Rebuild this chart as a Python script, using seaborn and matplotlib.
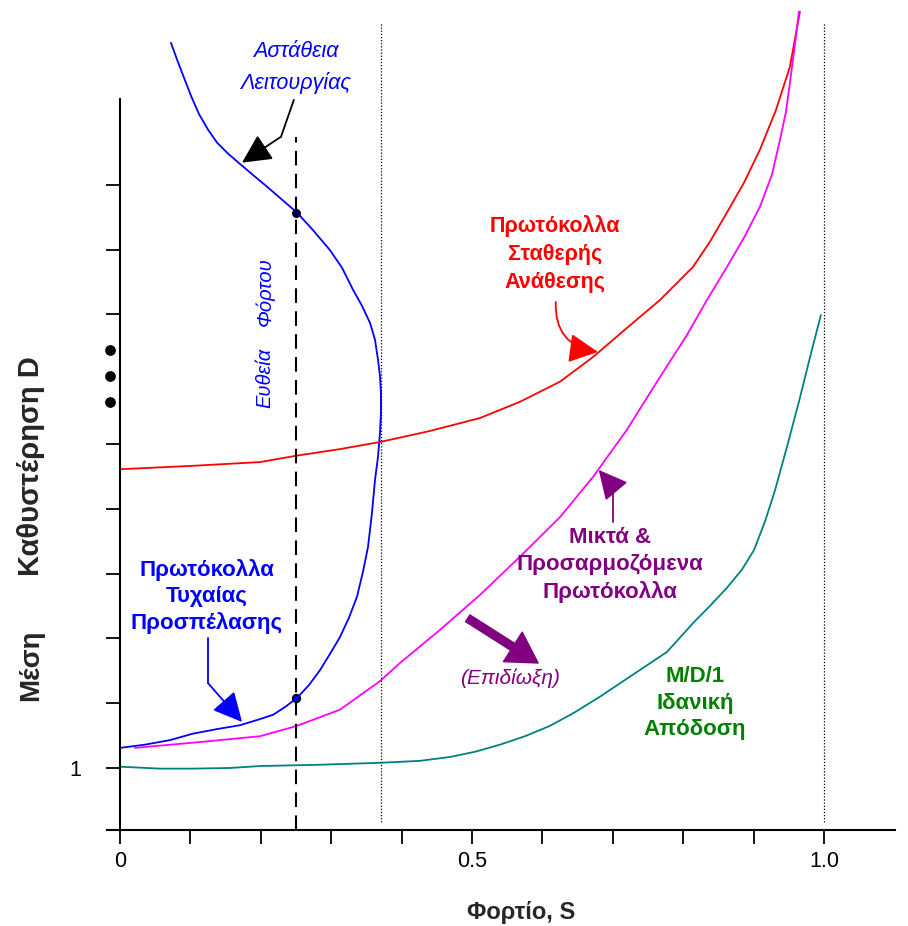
import matplotlib
matplotlib.use("Agg")
import matplotlib.pyplot as plt
import numpy as np
import seaborn as sns

# curves (load S, mean delay D)
blue_x = [0.0724, 0.0810, 0.0909, 0.1009, 0.1122, 0.1250, 0.1378, 0.1534, 0.1705, 0.1889,
          0.2088, 0.2301, 0.2514, 0.2741, 0.2983, 0.3153, 0.3310, 0.3438, 0.3551, 0.3622,
          0.3665, 0.3693, 0.3707, 0.3707, 0.3693, 0.3665, 0.3622, 0.3580, 0.3523, 0.3452,
          0.3366, 0.3253, 0.3125, 0.2983, 0.2841, 0.2685, 0.2514, 0.2344, 0.2173, 0.1946,
          0.1705, 0.1378, 0.1037, 0.0710, 0.0355, 0.0]
blue_y = [12.19, 11.93, 11.65, 11.37, 11.09, 10.85, 10.65, 10.48, 10.32, 10.15,
          9.97, 9.77, 9.57, 9.30, 8.99, 8.72, 8.38, 8.13, 7.87, 7.61,
          7.30, 7.05, 6.79, 6.48, 6.17, 5.80, 5.44, 4.94, 4.41, 4.03,
          3.64, 3.32, 3.02, 2.76, 2.51, 2.28, 2.08, 1.94, 1.82, 1.74,
          1.66, 1.60, 1.53, 1.43, 1.36, 1.31]

red_x = [0.0, 0.0994, 0.1989, 0.2514, 0.3125, 0.3693, 0.4403, 0.5114, 0.5682, 0.6250,
         0.6719, 0.7202, 0.7670, 0.8139, 0.8381, 0.8622, 0.8864, 0.9091, 0.9318, 0.9517,
         0.9659]
red_y = [5.61, 5.66, 5.72, 5.82, 5.92, 6.03, 6.20, 6.40, 6.65, 6.96,
         7.34, 7.79, 8.22, 8.73, 9.12, 9.57, 10.03, 10.54, 11.15, 11.82,
         12.67]

mag_x = [0.0213, 0.1136, 0.1989, 0.2514, 0.3125, 0.3693, 0.3977, 0.4545, 0.5114, 0.5682,
         0.6250, 0.6719, 0.7202, 0.7670, 0.8054, 0.8338, 0.8622, 0.8864, 0.9091, 0.9261,
         0.9375, 0.9460, 0.9517, 0.9588, 0.9645]
mag_y = [1.31, 1.40, 1.49, 1.65, 1.90, 2.34, 2.62, 3.13, 3.67, 4.26,
         4.87, 5.49, 6.22, 7.03, 7.68, 8.22, 8.73, 9.18, 9.66, 10.15,
         10.69, 11.12, 11.57, 12.16, 12.67]

teal_x = [0.0, 0.0568, 0.1037, 0.1563, 0.1989, 0.2841, 0.3693, 0.4261, 0.4688, 0.5043,
          0.5398, 0.5753, 0.6108, 0.6463, 0.6818, 0.7287, 0.7770, 0.8153, 0.8381, 0.8622,
          0.8835, 0.9006, 0.9162, 0.9304, 0.9474, 0.9645, 0.9801, 0.9957]
teal_y = [1.02, 0.99, 0.99, 1.00, 1.03, 1.05, 1.08, 1.11, 1.17, 1.25,
          1.36, 1.49, 1.65, 1.86, 2.10, 2.44, 2.79, 3.25, 3.50, 3.78,
          4.06, 4.36, 4.80, 5.28, 5.95, 6.65, 7.33, 7.99]

load_line = 0.25
limit_lines = [0.371, 1.0]
op_points_y = [9.56, 2.08]
ellipsis_y = [7.45, 7.05, 6.65]

x_ticks = [0.0, 0.1, 0.2, 0.3, 0.4, 0.5, 0.6, 0.7, 0.8, 0.9, 1.0]
x_labels = ['0', '', '', '', '', '0.5', '', '', '', '', '1.0']
y_ticks = [1, 2, 3, 4, 5, 6, 8, 9, 10]
y_labels = ['1', '', '', '', '', '', '', '', '']

BLUE = '#0000ff'
RED = '#ff0000'
MAG = '#ff00ff'
TEAL = '#008080'
PURPLE = '#800080'
GREEN = '#008000'

sns.set_theme(style="ticks")
plt.rcParams['font.family'] = ['Liberation Sans', 'DejaVu Sans']

fig = plt.figure(figsize=(9.08, 9.26), dpi=100)
ax = fig.add_axes([107 / 908, 96 / 926, 788 / 908, 830 / 926])
ax.set_xlim(-0.0185, 1.101)
ax.set_ylim(0.043, 12.85)

for xs, ys, c in [(blue_x, blue_y, BLUE), (red_x, red_y, RED),
                  (mag_x, mag_y, MAG), (teal_x, teal_y, TEAL)]:
    sns.lineplot(x=xs, y=ys, sort=False, estimator=None, color=c, lw=1.3, ax=ax)

# load line and limits
ax.plot([load_line, load_line], [0.043, 10.74], color='black', lw=1.5,
        dashes=(7, 4))
for xv in limit_lines:
    ax.plot([xv, xv], [0.17, 12.5], color='black', lw=0.9, ls=(0, (1, 1.5)))

ax.scatter([load_line], [op_points_y[0]], s=30, color='#000040', zorder=5)
ax.scatter([load_line], [op_points_y[1]], s=30, color=BLUE, edgecolor='black',
           lw=1.2, zorder=5)
ax.scatter([-0.0142] * 3, ellipsis_y, s=45, color='black', clip_on=False, zorder=5)

# axes styling
sns.despine(ax=ax)
ax.spines['left'].set_position(('data', 0))
ax.spines['left'].set_bounds(0.043, 11.32)
for s in ['left', 'bottom']:
    ax.spines[s].set_color('black')
    ax.spines[s].set_linewidth(1.5)
ax.set_xticks(x_ticks)
ax.set_xticklabels(x_labels)
ax.set_yticks(y_ticks)
ax.set_yticklabels(y_labels)
ax.tick_params(axis='both', direction='out', length=10, width=1.3,
               color='black', labelsize=15.5, labelcolor='black')
ax.tick_params(axis='x', pad=5)
ax.tick_params(axis='y', pad=18)

fig.text(521 / 908, 1 - 912 / 926, 'Φορτίο, S', ha='center', va='center',
         fontsize=17, fontweight='bold')
# y axis title, two words set apart as in the original
fig.text(31 / 908, 1 - 665 / 926, 'Μέση', rotation=90, ha='center',
         va='center', fontsize=20, fontweight='bold')
fig.text(31 / 908, 1 - 466 / 926, 'Καθυστέρηση D', rotation=90, ha='center',
         va='center', fontsize=21, fontweight='bold')

# annotations
ax.text(0.25, 11.81, 'Αστάθεια\nΛειτουργίας', color=BLUE, style='italic',
        ha='center', va='center', fontsize=15.5, linespacing=1.6)
ax.plot([0.247, 0.2287], [11.31, 10.74], color='black', lw=1.3)
ax.annotate('', xy=(0.1733, 10.34), xytext=(0.2287, 10.74),
            arrowprops=dict(arrowstyle='-|>,head_length=0.9,head_width=0.45',
                            color='black', lw=1.3, shrinkA=0, shrinkB=0,
                            mutation_scale=20))

ax.text(0.206, 7.02, 'Ευθεία', color=BLUE, style='italic', rotation=90,
        ha='center', va='center', fontsize=14.5)
ax.text(0.206, 8.35, 'Φόρτου', color=BLUE, style='italic', rotation=90,
        ha='center', va='center', fontsize=14.5)

ax.text(0.618, 8.93, 'Πρωτόκολλα\nΣταθερής\nΑνάθεσης', color=RED,
        fontweight='bold', ha='center', va='center', fontsize=15.5,
        linespacing=1.45)
ax.annotate('', xy=(0.679, 7.42), xytext=(0.619, 8.19),
            arrowprops=dict(arrowstyle='-|>,head_length=0.9,head_width=0.45',
                            color=RED, lw=1.3, shrinkA=0, shrinkB=0,
                            mutation_scale=20,
                            connectionstyle='arc3,rad=0.45'))

ax.text(0.1236, 3.65, 'Πρωτόκολλα\nΤυχαίας\nΠροσπέλασης', color=BLUE,
        fontweight='bold', ha='center', va='center', fontsize=16,
        linespacing=1.3)
ax.plot([0.125, 0.125], [3.01, 2.31], color=BLUE, lw=1.3)
ax.annotate('', xy=(0.1733, 1.71), xytext=(0.125, 2.31),
            arrowprops=dict(arrowstyle='-|>,head_length=0.9,head_width=0.45',
                            color=BLUE, lw=1.3, shrinkA=0, shrinkB=0,
                            mutation_scale=20))

ax.text(0.696, 4.13, 'Μικτά &\nΠροσαρμοζόμενα\nΠρωτόκολλα', color=PURPLE,
        fontweight='bold', ha='center', va='center', fontsize=16,
        linespacing=1.35)
ax.plot([0.700, 0.700], [4.80, 5.34], color=PURPLE, lw=1.3)
ax.annotate('', xy=(0.680, 5.60), xytext=(0.700, 5.34),
            arrowprops=dict(arrowstyle='-|>,head_length=0.9,head_width=0.45',
                            color=PURPLE, lw=1.3, shrinkA=0, shrinkB=0,
                            mutation_scale=20))

ax.annotate('', xy=(0.594, 2.62), xytext=(0.494, 3.31),
            arrowprops=dict(arrowstyle='simple,head_length=1.2,head_width=1.4,tail_width=0.32',
                            color=PURPLE, shrinkA=0, shrinkB=0,
                            mutation_scale=18))
ax.text(0.554, 2.39, '(Επιδίωξη)', color=PURPLE, style='italic',
        ha='center', va='center', fontsize=15)

ax.text(0.8168, 2.0, 'M/D/1\nΙδανική\nΑπόδοση', color=GREEN,
        fontweight='bold', ha='center', va='center', fontsize=16,
        linespacing=1.35)

fig.savefig('out.png', dpi=100)
